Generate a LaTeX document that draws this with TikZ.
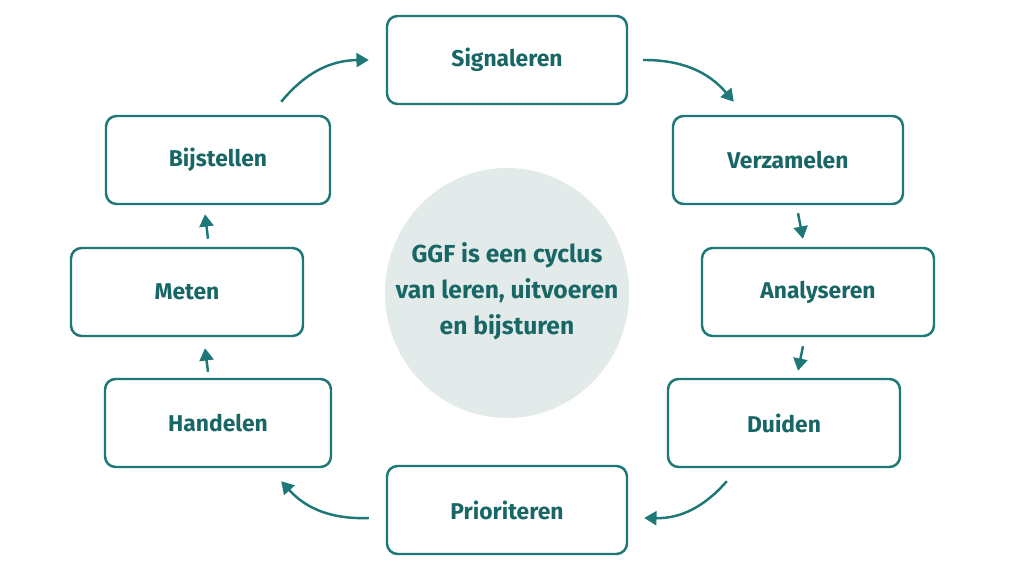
\documentclass[tikz,border=0pt]{standalone}
\usepackage{fontspec}
\setmainfont{Fira Sans}
\usetikzlibrary{arrows.meta}
\definecolor{teal}{HTML}{1E7878}
\definecolor{mist}{HTML}{E2EBE9}
\begin{document}
\begin{tikzpicture}
    % stijlen
    \tikzset{fase/.style={draw=teal, line width=1.4pt, rounded corners=6pt, fill=white, minimum width=4.6cm, minimum height=1.76cm, font=\fontsize{13}{15}\selectfont\bfseries, text=teal!85!black}}
    \tikzset{flow/.style={-{Triangle[length=7pt,width=8pt]}, line width=1.4pt, teal}}
    \useasboundingbox (0,0) rectangle (20.48,11.52);
    \fill[white] (0,0) rectangle (20.48,11.52);

    % midden
    \fill[mist] (10.14,5.66) ellipse [x radius=2.44cm, y radius=2.5cm];
    \node[align=center, font=\fontsize{14}{20.5}\selectfont\bfseries, text=teal!85!black] (kern) at (10.14,5.7)
          {GGF is een cyclus\\van leren, uitvoeren\\en bijsturen};

    % fasen
    \node[fase, minimum width=4.8cm] (sig) at (10.14,10.32) {Signaleren};
    \node[fase] (ver) at (15.76,8.32) {Verzamelen};
    \node[fase, minimum width=4.64cm] (ana) at (16.36,5.68) {Analyseren};
    \node[fase, minimum width=4.64cm] (dui) at (15.68,3.06) {Duiden};
    \node[fase, minimum width=4.8cm] (pri) at (10.14,1.32) {Prioriteren};
    \node[fase, minimum width=4.52cm] (han) at (4.36,3.06) {Handelen};
    \node[fase, minimum width=4.64cm] (met) at (3.74,5.68) {Meten};
    \node[fase, minimum width=4.48cm] (bij) at (4.36,8.32) {Bijstellen};

    % pijlen
    \draw[flow] ([xshift=0.3cm]sig.east) to[bend left=25] ([xshift=1.24cm,yshift=0.26cm]ver.north west);
    \draw[flow] ([xshift=0.2cm,yshift=-0.16cm]ver.south) -- ([xshift=-0.3cm,yshift=0.16cm]ana.north);
    \draw[flow] ([xshift=-0.3cm,yshift=-0.18cm]ana.south) -- ([xshift=0.28cm,yshift=0.14cm]dui.north);
    \draw[flow] ([xshift=1.2cm,yshift=-0.26cm]dui.south west) to[bend left=25] ([xshift=0.32cm,yshift=-0.16cm]pri.east);
    \draw[flow] ([xshift=-0.34cm,yshift=-0.16cm]pri.west) to[bend left=25] ([xshift=-1.02cm,yshift=-0.26cm]han.south east);
    \draw[flow] ([xshift=-0.2cm,yshift=0.12cm]han.north) -- ([xshift=0.36cm,yshift=-0.22cm]met.south);
    \draw[flow] ([xshift=0.42cm,yshift=0.16cm]met.north) -- ([xshift=-0.26cm,yshift=-0.18cm]bij.south);
    \draw[flow] ([xshift=-1cm,yshift=0.26cm]bij.north east) to[bend left=25] ([xshift=-0.34cm]sig.west);
\end{tikzpicture}
\end{document}
